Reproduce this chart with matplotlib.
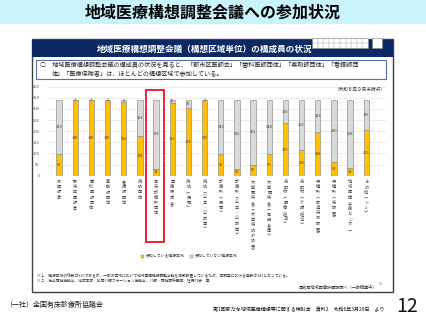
import matplotlib
matplotlib.use("Agg")
import matplotlib.pyplot as plt
from matplotlib.patches import Rectangle

plt.rcParams['font.family'] = ['Noto Sans CJK JP', 'DejaVu Sans']

categories = ["県医師会", "郡市区医師会", "歯科医師団体", "薬剤師団体", "看護師団体", "病院団体",
              "有床診療所団体", "医療保険者", "病院︵民間︶", "病院︵公立・公的等︶",
              "診療所︵民間︶", "診療所︵公立・公的等︶", "大学関係者︵大学病院の院長︶",
              "大学関係者︵有識者等︶", "市町村︵医療担当︶", "市町村︵介護担当︶",
              "保健所︵都道府県設置︶", "保健所︵市設置︶", "地域医療支援センター", "その他︵※2︶"]
participating = [98, 338, 338, 339, 332, 178, 32, 326, 304, 339, 99, 30, 50, 97, 235, 115, 198, 61, 33, 206]
not_participating = [243, 3, 3, 2, 9, 163, 309, 15, 37, 2, 242, 311, 291, 244, 106, 226, 143, 280, 308, 135]
y_ticks = [0, 50, 100, 150, 200, 250, 300, 350, 400]
legend_labels = ["参加している構想区域", "参加していない構想区域"]

W, H = 427, 320
fig = plt.figure(figsize=(W / 100, H / 100), dpi=100)
fig.patch.set_facecolor("white")


def fx(x):
    return x / W


def fy(y):
    return 1 - y / H


def rect(x0, y0, x1, y1, z=1, **kw):
    fig.patches.append(Rectangle((fx(x0), fy(y1)), fx(x1) - fx(x0), fy(y0) - fy(y1),
                                 transform=fig.transFigure, zorder=z, **kw))


# Title band
rect(0, 0, W, 24, facecolor="#C9F4FB", edgecolor="none")
fig.text(fx(213), fy(12), "地域医療構想調整会議への参加状況", ha="center", va="center",
         fontsize=11.5, fontweight="bold", color="black")

# Outer frame
rect(32, 39, 393, 292, facecolor="white", edgecolor="#404040", linewidth=1.0)
# Navy header
rect(32, 40, 393, 57, facecolor="#0B2A63", edgecolor="none")
fig.text(fx(205), fy(49), "地域医療構想調整会議（構想区域単位）の構成員の状況", ha="center", va="center",
         fontsize=6.2, fontweight="bold", color="white")
# tiny table image at top right
rect(312, 38, 368, 48, z=2, facecolor="white", edgecolor="#888888", linewidth=0.4)
for i in range(1, 10):
    xx = 312 + i * 5.6
    fig.lines.append(plt.Line2D([fx(xx), fx(xx)], [fy(38), fy(48)], transform=fig.transFigure,
                                color="#999999", linewidth=0.3, zorder=3))
fig.lines.append(plt.Line2D([fx(312), fx(368)], [fy(43), fy(43)], transform=fig.transFigure,
                            color="#999999", linewidth=0.3, zorder=3))
rect(372, 38, 382, 48, z=2, facecolor="white", edgecolor="#888888", linewidth=0.4)

# Text box
rect(36, 60, 386, 79, z=2, facecolor="white", edgecolor="#5B6FA8", linewidth=0.8)
fig.text(fx(40), fy(65), "○　地域医療構想調整会議の構成員の状況を見ると、「郡市区医師会」「歯科医師団体」「薬剤師団体」「看護師団",
         ha="left", va="center", fontsize=4.4, color="#222222")
fig.text(fx(52), fy(73.5), "体」「医療保険者」は、ほとんどの構想区域で参加している。",
         ha="left", va="center", fontsize=4.4, color="#222222")

# Chart axes
spacing = 16.17
x0px = 59
xl = (-0.75, 20.2)
left_px = x0px + xl[0] * spacing
right_px = x0px + xl[1] * spacing
top_px, bot_px = 86.7, 175.7
ax = fig.add_axes([fx(left_px), fy(bot_px), fx(right_px) - fx(left_px), (bot_px - top_px) / H])
ax.set_zorder(5)
ax.patch.set_alpha(0)
ax.set_xlim(*xl)
ax.set_ylim(0, 400)
for s in ax.spines.values():
    s.set_visible(False)
ax.set_yticks(y_ticks)
ax.set_yticklabels([str(t) for t in y_ticks], fontsize=3, color="#555555")
ax.tick_params(axis="y", length=0, pad=5)
ax.set_xticks([])
ax.yaxis.grid(True, color="#E3E3E3", linewidth=0.5)
ax.set_axisbelow(True)

xs = list(range(len(categories)))
ax.bar(xs, participating, width=0.33, color="#FFC000", edgecolor="#7F7F7F", linewidth=0.4)
ax.bar(xs, not_participating, bottom=participating, width=0.33, color="#D9D9D9",
       edgecolor="#7F7F7F", linewidth=0.4)
for i, (p, n) in enumerate(zip(participating, not_participating)):
    ax.text(i, p / 2, str(p), ha="center", va="center", fontsize=2.8, color="#404040")
    ax.text(i, p + n / 2, str(n), ha="center", va="center", fontsize=2.8, color="#404040")

ax.text(1.0, 1.0, "（令和５年９月末時点）", transform=ax.transAxes, ha="right", va="top",
        fontsize=3.3, color="#333333")

# Category labels (vertical)
for i, c in enumerate(categories):
    xp = x0px + i * spacing
    fig.text(fx(xp), fy(180), "\n".join(c), ha="center", va="top", fontsize=3.0,
             color="#404040", linespacing=1.4, zorder=6)

# Red highlight box
rect(146.5, 90, 164, 242, z=7, facecolor="none", edgecolor="#E60012", linewidth=1.2)

# Legend
rect(141, 255, 144, 258, z=6, facecolor="#FFC000", edgecolor="#7F7F7F", linewidth=0.3)
fig.text(fx(145.5), fy(256.5), legend_labels[0], ha="left", va="center", fontsize=2.8, color="#404040", zorder=6)
rect(190, 255, 193, 258, z=6, facecolor="#D9D9D9", edgecolor="#7F7F7F", linewidth=0.3)
fig.text(fx(194.5), fy(256.5), legend_labels[1], ha="left", va="center", fontsize=2.8, color="#404040", zorder=6)

# Footnotes
fig.text(fx(37), fy(276), "※１　構想区域の総数は339であるが、一部の区域において地域医療構想調整会議を複数設置しているため、本調査における母数は341となっている。",
         ha="left", va="center", fontsize=2.7, color="#333333", zorder=6)
fig.text(fx(37), fy(281.5), "※２　社会福祉協議会、消防本部、訪問介護ステーション協議会、介護・福祉関係団体、住民代表　等",
         ha="left", va="center", fontsize=2.7, color="#333333", zorder=6)
fig.text(fx(377), fy(287), "医政局地域医療計画課調べ（一部精査中）", ha="right", va="center",
         fontsize=3.0, color="#333333", zorder=6)
fig.text(fx(379), fy(284), "39", ha="left", va="center", fontsize=2.6, color="#888888", zorder=6)

# Bottom texts
fig.text(fx(5), fy(305), "（一社）全国有床診療所協議会", ha="left", va="center", fontsize=5.0, color="#111111")
fig.text(fx(385), fy(309), "第1回新たな地域医療構想等に関する検討会　資料2　令和6年3月29日　より",
         ha="right", va="center", fontsize=3.6, color="#111111")
fig.text(fx(418), fy(306), "12", ha="right", va="center", fontsize=14, color="#111111")

fig.savefig("out.png", dpi=100, facecolor="white")
